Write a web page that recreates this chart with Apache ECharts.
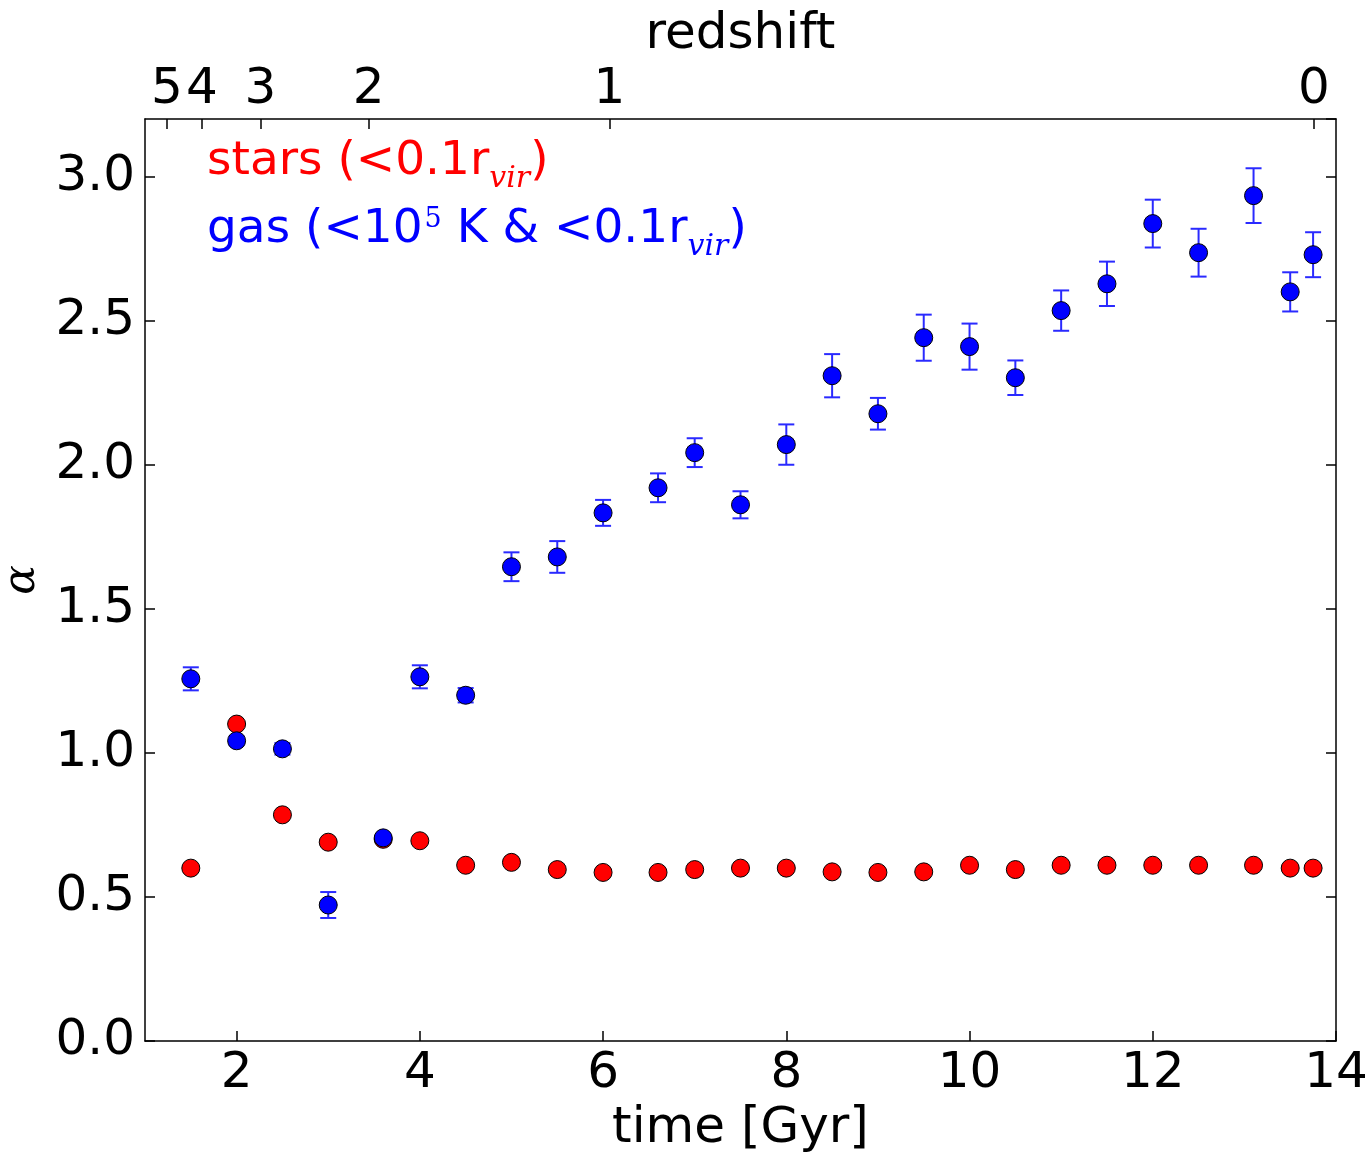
<!DOCTYPE html>
<html>
<head>
<meta charset="utf-8">
<script src="https://cdn.jsdelivr.net/npm/echarts@6/dist/echarts.min.js"></script>
<style>
html,body{margin:0;padding:0;background:#fff;}
#chart{width:1370px;height:1157px;}
</style>
</head>
<body>
<div id="chart"></div>
<script>
// ---- data ----
var times = [1.5, 2.0, 2.5, 3.0, 3.6, 4.0, 4.5, 5.0, 5.5, 6.0, 6.6, 7.0, 7.5, 8.0, 8.5, 9.0, 9.5, 10.0, 10.5, 11.0, 11.5, 12.0, 12.5, 13.1, 13.5, 13.75];
var stars = [0.60, 1.10, 0.785, 0.69, 0.70, 0.695, 0.61, 0.62, 0.595, 0.585, 0.585, 0.595, 0.60, 0.60, 0.587, 0.585, 0.587, 0.61, 0.595, 0.61, 0.61, 0.61, 0.61, 0.61, 0.60, 0.60];
var gas = [1.257, 1.042, 1.014, 0.472, 0.705, 1.264, 1.20, 1.646, 1.68, 1.833, 1.92, 2.042, 1.861, 2.07, 2.309, 2.177, 2.441, 2.41, 2.302, 2.535, 2.628, 2.837, 2.736, 2.934, 2.60, 2.729];
var gasErr = [0.04, 0.015, 0.02, 0.045, 0.01, 0.04, 0.025, 0.05, 0.055, 0.045, 0.05, 0.05, 0.047, 0.07, 0.075, 0.055, 0.08, 0.08, 0.06, 0.07, 0.077, 0.083, 0.083, 0.095, 0.068, 0.078];
// top (redshift) axis: time positions of redshift ticks and their labels
var redshiftTimes = [1.24, 1.62, 2.26, 3.44, 6.07, 13.76];
var redshiftLabels = ['5', '4', '3', '2', '1', '0'];
var yTickLabels = ['0.0', '0.5', '1.0', '1.5', '2.0', '2.5', '3.0'];

// ---- build helpers ----
var TMIN = 1, TMAX = 14, STEP = 0.01;
var topCats = [];
for (var i = 0; i <= Math.round((TMAX - TMIN) / STEP); i++) topCats.push((TMIN + i * STEP).toFixed(2));
var topTickMap = {};
redshiftTimes.forEach(function (t, k) { topTickMap[Math.round((t - TMIN) / STEP)] = redshiftLabels[k]; });

var FONT = 'DejaVu Sans';
var chart = echarts.init(document.getElementById('chart'), null, {renderer: 'canvas'});

var axisLineStyle = {color: '#000', width: 1.5};

function mainStyle(c) {
  return {color: c, fontFamily: FONT, fontSize: 47, lineHeight: 52, verticalAlign: 'top'};
}
function subStyle(c) {
  return {color: c, fontFamily: 'DejaVu Serif', fontStyle: 'italic', fontSize: 30, lineHeight: 30, padding: [26, 0, 0, 0], verticalAlign: 'top'};
}

var option = {
  backgroundColor: '#fff',
  animation: false,
  grid: {left: 145, right: 34, top: 119, bottom: 116, containLabel: false, outerBoundsMode: 'none'},
  legend: {
    orient: 'vertical',
    left: 196,
    top: 133,
    itemWidth: 0,
    itemHeight: 0,
    itemGap: 12,
    selectedMode: false,
    data: [
      {name: 'stars', textStyle: {color: '#ff0000'}},
      {name: 'gas', textStyle: {color: '#0000ff'}}
    ],
    formatter: function (name) {
      if (name === 'stars') return '{r|stars (<0.1r}{rs|vir}{r|)}';
      return '{b|gas (<10}{bp|5}{b| K & <0.1r}{bs|vir}{b|)}';
    },
    textStyle: {
      fontFamily: FONT,
      fontSize: 47,
      rich: {
        r: mainStyle('#ff0000'),
        rs: subStyle('#ff0000'),
        b: mainStyle('#0000ff'),
        bs: subStyle('#0000ff'),
        bp: {color: '#0000ff', fontFamily: 'DejaVu Serif', fontSize: 27, lineHeight: 27, verticalAlign: 'top', padding: [0, 0, 0, 2]}
      }
    }
  },
  xAxis: [
    {
      type: 'value',
      position: 'bottom',
      min: TMIN,
      max: TMAX,
      splitNumber: 6,
      name: 'time [Gyr]',
      nameLocation: 'middle',
      nameGap: 58,
      nameTextStyle: {fontFamily: FONT, fontSize: 50, color: '#000'},
      axisLine: {show: true, onZero: false, lineStyle: axisLineStyle},
      axisTick: {show: true, inside: true, length: 10, lineStyle: {color: '#000', width: 1.5}},
      axisLabel: {
        show: true, margin: 8, color: '#000', fontFamily: FONT, fontSize: 50,
        showMinLabel: false,
        formatter: function (v) { return Math.abs(v - TMIN) < 1e-9 ? '' : String(v); }
      },
      splitLine: {show: false}
    },
    {
      type: 'category',
      position: 'top',
      boundaryGap: false,
      data: topCats,
      name: 'redshift',
      nameLocation: 'middle',
      nameGap: 57,
      nameTextStyle: {fontFamily: FONT, fontSize: 50, color: '#000'},
      axisLine: {show: true, onZero: false, lineStyle: axisLineStyle},
      axisTick: {
        show: true, inside: true, length: 10, lineStyle: {color: '#000', width: 1.5},
        interval: function (index) { return topTickMap.hasOwnProperty(index); }
      },
      axisLabel: {
        show: true, margin: 4, color: '#000', fontFamily: FONT, fontSize: 50,
        interval: function (index) { return topTickMap.hasOwnProperty(index); },
        formatter: function (value, index) { return topTickMap.hasOwnProperty(index) ? topTickMap[index] : ''; }
      },
      splitLine: {show: false}
    }
  ],
  yAxis: [
    {
      type: 'value',
      position: 'left',
      min: 0,
      max: 3.2,
      interval: 0.5,
      name: 'α',
      nameLocation: 'middle',
      nameGap: 100,
      nameTextStyle: {fontFamily: 'DejaVu Serif', fontStyle: 'italic', fontSize: 44, color: '#000'},
      axisLine: {show: true, lineStyle: axisLineStyle},
      axisTick: {show: true, inside: true, length: 10, lineStyle: {color: '#000', width: 1.5}},
      axisLabel: {
        show: true, margin: 10, color: '#000', fontFamily: FONT, fontSize: 50,
        showMaxLabel: false,
        formatter: function (v) { var k = Math.round(v / 0.5); return (Math.abs(v - k * 0.5) < 1e-9 && yTickLabels[k]) ? yTickLabels[k] : ''; }
      },
      splitLine: {show: false}
    },
    {
      type: 'value',
      position: 'right',
      min: 0,
      max: 3.2,
      interval: 0.5,
      axisLine: {show: true, lineStyle: axisLineStyle},
      axisTick: {show: true, inside: true, length: 10, lineStyle: {color: '#000', width: 1.5}},
      axisLabel: {show: false},
      splitLine: {show: false}
    }
  ],
  series: [
    {
      name: 'stars',
      type: 'scatter',
      xAxisIndex: 0,
      yAxisIndex: 0,
      symbol: 'circle',
      symbolSize: 18,
      itemStyle: {color: '#ff0000', borderColor: '#000', borderWidth: 1, opacity: 1},
      data: times.map(function (t, i) { return [t, stars[i]]; }),
      z: 3
    },
    {
      name: 'gasErr',
      type: 'custom',
      xAxisIndex: 0,
      yAxisIndex: 0,
      data: times.map(function (t, i) { return [t, gas[i] - gasErr[i], gas[i] + gasErr[i]]; }),
      encode: {x: 0, y: [1, 2]},
      renderItem: function (params, api) {
        var x = api.value(0);
        var lo = api.coord([x, api.value(1)]);
        var hi = api.coord([x, api.value(2)]);
        var w = 8;
        var st = {stroke: '#2a2aff', lineWidth: 2};
        return {
          type: 'group',
          children: [
            {type: 'line', shape: {x1: lo[0], y1: lo[1], x2: hi[0], y2: hi[1]}, style: st},
            {type: 'line', shape: {x1: lo[0] - w, y1: lo[1], x2: lo[0] + w, y2: lo[1]}, style: st},
            {type: 'line', shape: {x1: hi[0] - w, y1: hi[1], x2: hi[0] + w, y2: hi[1]}, style: st}
          ]
        };
      },
      z: 3
    },
    {
      name: 'gas',
      type: 'scatter',
      xAxisIndex: 0,
      yAxisIndex: 0,
      symbol: 'circle',
      symbolSize: 18,
      itemStyle: {color: '#0000ff', borderColor: '#000', borderWidth: 1, opacity: 1},
      data: times.map(function (t, i) { return [t, gas[i]]; }),
      z: 3
    }
  ]
};
chart.setOption(option);
</script>
</body>
</html>
